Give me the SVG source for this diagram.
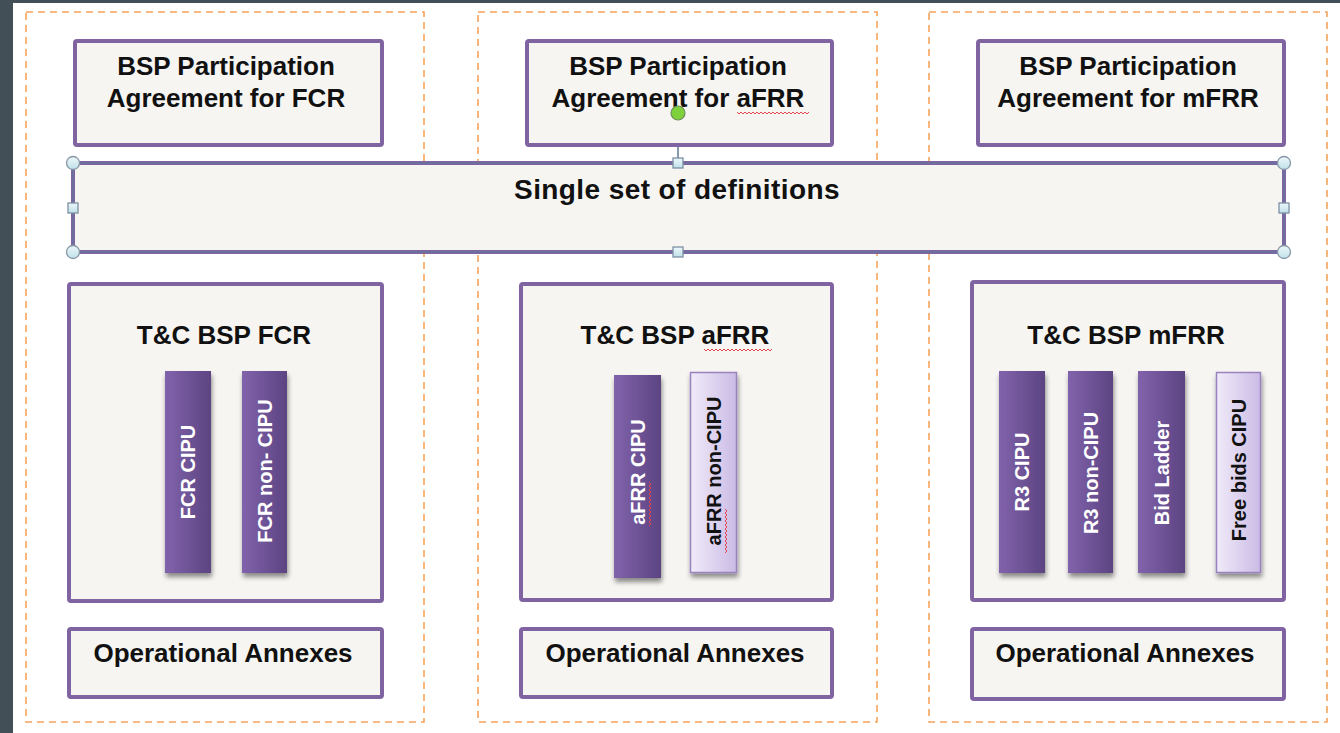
<svg xmlns="http://www.w3.org/2000/svg" width="1340" height="733" viewBox="0 0 1340 733">
<defs>
<style>
.bg{fill:#ffffff}
.frame{fill:none;stroke:#f7a35c;stroke-width:1.6;stroke-dasharray:7 5}
.box{fill:#f6f5f2;stroke:#8064a2;stroke-width:4}
.t{font-family:"Liberation Sans",Arial,sans-serif;font-weight:bold;font-size:26px;fill:#111;text-anchor:middle}
.bt{font-family:"Liberation Sans",Arial,sans-serif;font-weight:bold;font-size:20px;text-anchor:middle;dominant-baseline:central}
.dark{fill:url(#gDark)}
.light{fill:url(#gLight);stroke:#9a82bf;stroke-width:1.5}
.w{fill:#ffffff}
.k{fill:#111}
.sq{fill:none;stroke:#e0474c;stroke-width:1}
.hc{fill:url(#gHandle);stroke:#8797a6;stroke-width:1.3}
.hs{fill:url(#gHandle);stroke:#7d90a3;stroke-width:1.3}
</style>
<linearGradient id="gDark" x1="0" y1="0" x2="1" y2="0">
<stop offset="0" stop-color="#8163ab"/>
<stop offset="1" stop-color="#5c4482"/>
</linearGradient>
<linearGradient id="gLight" x1="0" y1="0" x2="1" y2="0">
<stop offset="0" stop-color="#f0ebf9"/>
<stop offset="1" stop-color="#cbbbe5"/>
</linearGradient>
<linearGradient id="gHandle" x1="0" y1="0" x2="0" y2="1">
<stop offset="0" stop-color="#eef8fa"/>
<stop offset="1" stop-color="#bfe0e9"/>
</linearGradient>
<filter id="shadow" x="-30%" y="-10%" width="160%" height="125%">
<feGaussianBlur in="SourceAlpha" stdDeviation="2.5"/>
<feOffset dx="1" dy="4" result="b"/>
<feComponentTransfer><feFuncA type="linear" slope="0.45"/></feComponentTransfer>
<feMerge><feMergeNode/><feMergeNode in="SourceGraphic"/></feMerge>
</filter>
</defs>

<rect x="0" y="0" width="1340" height="733" fill="#434f57"/>
<rect class="bg" x="13" y="3" width="1327" height="730"/>

<g id="frames">
<rect class="frame" x="26" y="12" width="398" height="710"/>
<rect class="frame" x="478" y="12" width="399" height="710"/>
<rect class="frame" x="929" y="12" width="398" height="710"/>
</g>

<g id="connectors">
<line x1="678" y1="120" x2="678" y2="158" stroke="#5b7a99" stroke-width="1.5"/>
</g>

<g id="pa-fcr">
<rect class="box" x="75" y="41" width="307" height="104" rx="2"/>
<text class="t" x="226" y="75">BSP Participation</text>
<text class="t" x="226" y="107">Agreement for FCR</text>
</g>
<g id="pa-afrr">
<rect class="box" x="527" y="41" width="305" height="104" rx="2"/>
<text class="t" x="678" y="75">BSP Participation</text>
<text class="t" x="678" y="107">Agreement for aFRR</text>
<path class="sq" d="M737 112 l2 2 l2 -2 l2 2 l2 -2 l2 2 l2 -2 l2 2 l2 -2 l2 2 l2 -2 l2 2 l2 -2 l2 2 l2 -2 l2 2 l2 -2 l2 2 l2 -2 l2 2 l2 -2 l2 2 l2 -2 l2 2 l2 -2 l2 2 l2 -2 l2 2 l2 -2 l2 2 l2 -2 l2 2 l2 -2 l2 2 l2 -2 l2 2 l2 -2"/>
</g>
<g id="pa-mfrr">
<rect class="box" x="978" y="41" width="306" height="104" rx="2"/>
<text class="t" x="1128" y="75">BSP Participation</text>
<text class="t" x="1128" y="107">Agreement for mFRR</text>
</g>

<g id="definitions">
<rect class="box" x="73" y="163" width="1211" height="89"/>
<rect x="73" y="163" width="1211" height="89" fill="none" stroke="#5b7a99" stroke-width="1"/>
<text class="t" x="677" y="199" style="font-size:28px" letter-spacing="0.4">Single set of definitions</text>
<circle class="hc" cx="73" cy="163" r="6.5"/>
<circle class="hc" cx="1284" cy="163" r="6.5"/>
<circle class="hc" cx="73" cy="252" r="6.5"/>
<circle class="hc" cx="1284" cy="252" r="6.5"/>
<rect class="hs" x="68" y="203" width="10" height="10"/>
<rect class="hs" x="1279" y="203" width="10" height="10"/>
<rect class="hs" x="673" y="158" width="10" height="10"/>
<rect class="hs" x="673" y="247" width="10" height="10"/>
<circle cx="678" cy="113" r="7" fill="#7fd13b" stroke="#6b8f5a" stroke-width="1.2"/>
</g>

<g id="tc-fcr">
<rect class="box" x="69" y="284" width="313" height="317" rx="2"/>
<text class="t" x="224" y="344">T&amp;C BSP FCR</text>
<g filter="url(#shadow)">
<rect class="dark" x="165" y="371" width="46" height="202"/>
<rect class="dark" x="242" y="371" width="45" height="202"/>
</g>
<text class="bt w" transform="translate(188,472) rotate(-90)">FCR CIPU</text>
<text class="bt w" transform="translate(264.5,471) rotate(-90)">FCR non- CIPU</text>
</g>

<g id="tc-afrr">
<rect class="box" x="521" y="284" width="311" height="316" rx="2"/>
<text class="t" x="675" y="344">T&amp;C BSP aFRR</text>
<path class="sq" d="M704 349 l2 2 l2 -2 l2 2 l2 -2 l2 2 l2 -2 l2 2 l2 -2 l2 2 l2 -2 l2 2 l2 -2 l2 2 l2 -2 l2 2 l2 -2 l2 2 l2 -2 l2 2 l2 -2 l2 2 l2 -2 l2 2 l2 -2 l2 2 l2 -2 l2 2 l2 -2 l2 2 l2 -2 l2 2 l2 -2 l2 2 l2 -2"/>
<g filter="url(#shadow)">
<rect class="dark" x="614" y="375" width="47" height="203"/>
<rect class="light" x="690.5" y="372.5" width="46" height="200"/>
</g>
<text class="bt w" transform="translate(637.5,472) rotate(-90)">aFRR CIPU</text>
<text class="bt k" transform="translate(713.5,471) rotate(-90)">aFRR non-CIPU</text>
<path class="sq" d="M649 526 l2 -2 l-2 -2 l2 -2 l-2 -2 l2 -2 l-2 -2 l2 -2 l-2 -2 l2 -2 l-2 -2 l2 -2 l-2 -2 l2 -2 l-2 -2 l2 -2 l-2 -2 l2 -2 l-2 -2 l2 -2 l-2 -2 l2 -2 l-2 -2"/>
<path class="sq" d="M725 553 l2 -2 l-2 -2 l2 -2 l-2 -2 l2 -2 l-2 -2 l2 -2 l-2 -2 l2 -2 l-2 -2 l2 -2 l-2 -2 l2 -2 l-2 -2 l2 -2 l-2 -2 l2 -2 l-2 -2 l2 -2 l-2 -2 l2 -2 l-2 -2"/>
</g>

<g id="tc-mfrr">
<rect class="box" x="972" y="282" width="312" height="318" rx="2"/>
<text class="t" x="1126" y="344">T&amp;C BSP mFRR</text>
<g filter="url(#shadow)">
<rect class="dark" x="999" y="371" width="46" height="202"/>
<rect class="dark" x="1068" y="371" width="45" height="202"/>
<rect class="dark" x="1138" y="371" width="47" height="202"/>
<rect class="light" x="1216.5" y="372.5" width="44" height="200"/>
</g>
<text class="bt w" transform="translate(1022,472) rotate(-90)">R3 CIPU</text>
<text class="bt w" transform="translate(1090.5,473) rotate(-90)">R3 non-CIPU</text>
<text class="bt w" transform="translate(1161.5,473) rotate(-90)">Bid Ladder</text>
<text class="bt k" transform="translate(1238.5,470) rotate(-90)">Free bids CIPU</text>
</g>

<g id="oa-fcr">
<rect class="box" x="69" y="629" width="313" height="68" rx="2"/>
<text class="t" x="223" y="662">Operational Annexes</text>
</g>
<g id="oa-afrr">
<rect class="box" x="521" y="629" width="311" height="68" rx="2"/>
<text class="t" x="675" y="662">Operational Annexes</text>
</g>
<g id="oa-mfrr">
<rect class="box" x="972" y="629" width="312" height="70" rx="2"/>
<text class="t" x="1125" y="662">Operational Annexes</text>
</g>
</svg>
